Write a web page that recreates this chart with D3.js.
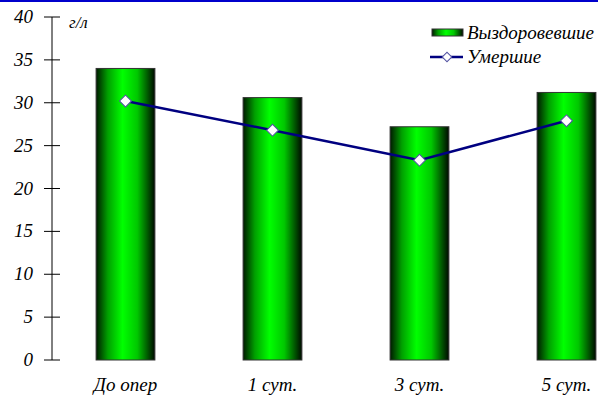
<!DOCTYPE html>
<html><head><meta charset="utf-8">
<script src="https://cdn.jsdelivr.net/npm/d3@7"></script>
<style>body{margin:0;background:#fff}svg{display:block}</style>
</head><body>
<svg id="c" width="598" height="396"></svg>
<script>
const categories = ["До опер", "1 сут.", "3 сут.", "5 сут."];
const recovered = [34.0, 30.6, 27.2, 31.2];
const deceased = [30.2, 26.8, 23.3, 27.9];
const yTicks = [0, 5, 10, 15, 20, 25, 30, 35, 40];
const seriesNames = ["Выздоровевшие", "Умершие"];
const unitLabel = "г/л";

const FONT = "Liberation Serif";
const svg = d3.select("#c");
const x = d3.scaleBand().domain(categories).range([52, 52 + 4 * 147]).paddingInner(0.6).paddingOuter(0.3);
const y = d3.scaleLinear().domain([0, 40]).range([360, 17]);

const defs = svg.append("defs");
const g = defs.append("linearGradient").attr("id", "grn").attr("x1", "0").attr("x2", "1").attr("y1", "0").attr("y2", "0");
g.append("stop").attr("offset", "0").attr("stop-color", "#001a00");
g.append("stop").attr("offset", "0.2").attr("stop-color", "#00a000");
g.append("stop").attr("offset", "0.45").attr("stop-color", "#00ff00");
g.append("stop").attr("offset", "0.7").attr("stop-color", "#00c800");
g.append("stop").attr("offset", "1").attr("stop-color", "#000a00");

// top blue rule
svg.append("rect").attr("x", 0).attr("y", 0).attr("width", 598).attr("height", 2).attr("fill", "#0000cc");

// bars
svg.selectAll("rect.bar").data(recovered).join("rect").attr("class", "bar")
  .attr("x", (d, i) => x(categories[i]))
  .attr("y", d => y(d))
  .attr("width", x.bandwidth())
  .attr("height", d => y(0) - y(d))
  .attr("fill", "url(#grn)")
  .attr("stroke", "#333").attr("stroke-width", 1);

// y axis
const axis = svg.append("g").attr("transform", "translate(52,0)");
axis.append("line").attr("x1", 0).attr("x2", 0).attr("y1", y(40)).attr("y2", y(0)).attr("stroke", "#000");
axis.selectAll("line.t").data(yTicks).join("line").attr("class", "t")
  .attr("x1", -8).attr("x2", 8).attr("y1", d => y(d)).attr("y2", d => y(d)).attr("stroke", "#000");
axis.selectAll("text").data(yTicks).join("text")
  .attr("x", -19).attr("y", d => y(d) + 6).attr("text-anchor", "end")
  .attr("font-family", FONT).attr("font-style", "italic")
  .attr("font-size", 19).attr("fill", "#000").text(d => d);

svg.append("text").attr("x", 69).attr("y", 28).attr("font-size", 17)
  .attr("font-family", FONT).attr("font-style", "italic").text(unitLabel);

// x labels
svg.selectAll("text.xl").data(categories).join("text").attr("class", "xl")
  .attr("x", d => x(d) + x.bandwidth() / 2).attr("y", 391)
  .attr("font-family", FONT).attr("font-style", "italic")
  .attr("text-anchor", "middle").attr("font-size", 19).text(d => d);

// line
const cx = (d, i) => x(categories[i]) + x.bandwidth() / 2;
svg.append("path").datum(deceased)
  .attr("d", d3.line().x(cx).y(d => y(d)))
  .attr("fill", "none").attr("stroke", "#000080").attr("stroke-width", 2.5);
svg.selectAll("path.m").data(deceased).join("path").attr("class", "m")
  .attr("transform", (d, i) => `translate(${cx(d, i)},${y(d)}) rotate(45)`)
  .attr("d", d3.symbol().type(d3.symbolSquare).size(70))
  .attr("fill", "#fff").attr("stroke", "#5050a0").attr("stroke-width", 1);

// legend
svg.append("rect").attr("x", 432).attr("y", 29).attr("width", 31).attr("height", 7)
  .attr("fill", "url(#grn)").attr("stroke", "#333");
svg.append("text").attr("x", 467).attr("y", 39).attr("font-size", 19)
  .attr("font-family", FONT).attr("font-style", "italic").text(seriesNames[0]);
svg.append("line").attr("x1", 430).attr("x2", 463).attr("y1", 57).attr("y2", 57).attr("stroke", "#000080").attr("stroke-width", 2.5);
svg.append("path").attr("transform", "translate(447,57) rotate(45)")
  .attr("d", d3.symbol().type(d3.symbolSquare).size(45))
  .attr("fill", "#fff").attr("stroke", "#5050a0");
svg.append("text").attr("x", 467).attr("y", 63).attr("font-size", 19)
  .attr("font-family", FONT).attr("font-style", "italic").text(seriesNames[1]);
</script>
</body></html>
